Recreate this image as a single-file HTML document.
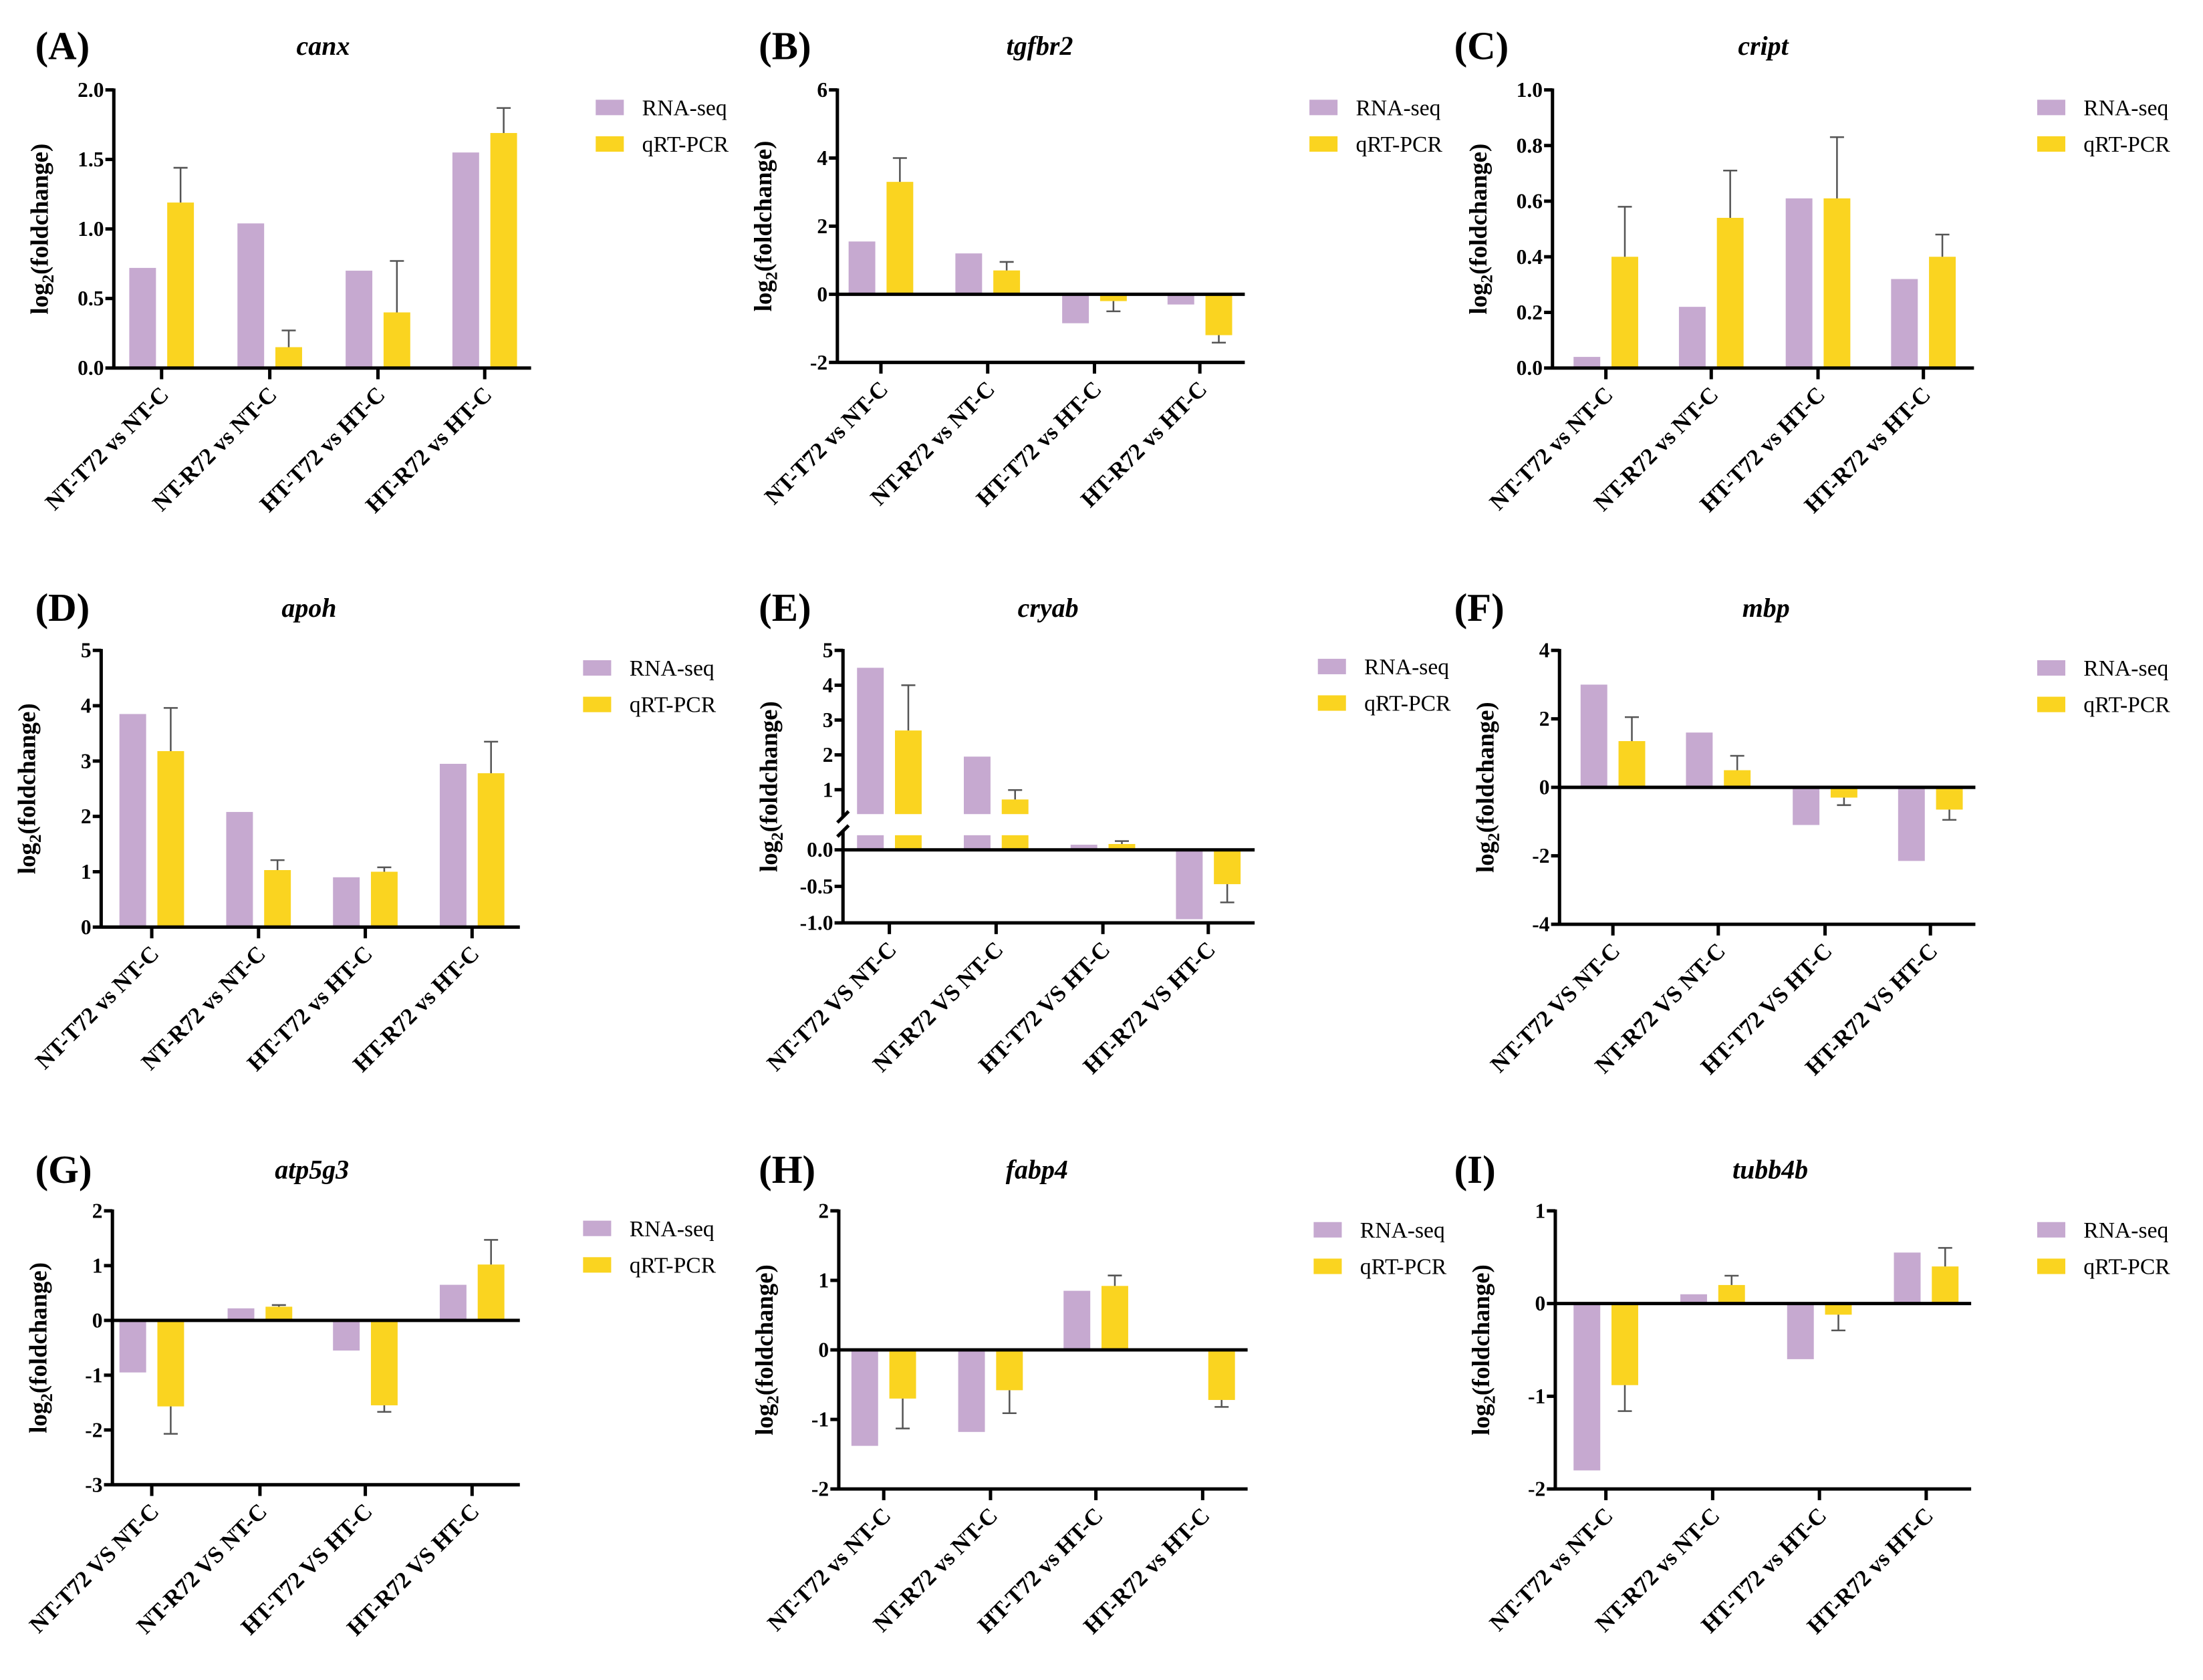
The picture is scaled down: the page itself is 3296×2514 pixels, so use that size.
<!DOCTYPE html>
<html><head><meta charset="utf-8">
<style>
html,body{margin:0;padding:0;background:#fff;}
svg{display:block;font-family:"Liberation Serif",serif;}
</style></head>
<body>
<svg id="fig" width="3296" height="2514" viewBox="0 0 1568 1196" xmlns="http://www.w3.org/2000/svg"></svg>
<script>
const catsLower = ["NT-T72 vs NT-C","NT-R72 vs NT-C","HT-T72 vs HT-C","HT-R72 vs HT-C"];
const catsUpper = ["NT-T72 VS NT-C","NT-R72 VS NT-C","HT-T72 VS HT-C","HT-R72 VS HT-C"];

const rnaA=[0.72,1.04,0.70,1.55], qA=[1.19,0.15,0.40,1.69], eA=[0.25,0.12,0.37,0.18];
const rnaB=[1.55,1.2,-0.85,-0.3], qB=[3.3,0.7,-0.2,-1.2], eB=[0.7,0.25,0.3,0.22];
const rnaC=[0.04,0.22,0.61,0.32], qC=[0.40,0.54,0.61,0.40], eC=[0.18,0.17,0.22,0.08];
const rnaD=[3.85,2.08,0.9,2.95], qD=[3.18,1.03,1.0,2.78], eD=[0.78,0.18,0.08,0.57];
const rnaE=[4.5,1.95,0.07,-0.95], qE=[2.7,0.72,0.08,-0.47], eE=[1.3,0.27,0.04,0.25];
const rnaF=[3.0,1.6,-1.1,-2.15], qF=[1.35,0.5,-0.3,-0.65], eF=[0.7,0.42,0.22,0.3];
const rnaG=[-0.95,0.22,-0.55,0.65], qG=[-1.57,0.25,-1.55,1.02], eG=[0.5,0.03,0.12,0.45];
const rnaH=[-1.38,-1.18,0.85,0], qH=[-0.7,-0.58,0.92,-0.72], eH=[0.43,0.33,0.15,0.1];
const rnaI=[-1.8,0.1,-0.6,0.55], qI=[-0.88,0.2,-0.12,0.4], eI=[0.28,0.1,0.17,0.2];

const ticksA=["0.0","0.5","1.0","1.5","2.0"];
const ticksB=["-2","0","2","4","6"];
const ticksC=["0.0","0.2","0.4","0.6","0.8","1.0"];
const ticksD=["0","1","2","3","4","5"];
const ticksEUp=["1","2","3","4","5"];
const ticksELow=["-1.0","-0.5","0.0"];
const ticksF=["-4","-2","0","2","4"];
const ticksG=["-3","-2","-1","0","1","2"];
const ticksH=["-2","-1","0","1","2"];
const ticksI=["-2","-1","0","1"];

const NS="http://www.w3.org/2000/svg";
const svg=document.getElementById('fig');
const PURPLE="#c6a9d0", YELLOW="#fad420";
function mk(tag,attrs,parent){const e=document.createElementNS(NS,tag);for(const k in attrs)e.setAttribute(k,attrs[k]);(parent||svg).appendChild(e);return e;}
function txt(s,attrs,parent){const e=mk('text',attrs,parent);e.textContent=s;return e;}

function panel(p){
  const g=mk('g',{});
  
  
  const L=txt('('+p.id+')',{x:p.lx,y:p.ty+9,'font-size':28,'font-weight':'bold'},g);
  
  
  const T=txt(p.title,{x:p.tx,y:p.ty+6,'font-size':19,'font-weight':'bold','font-style':'italic','text-anchor':'middle'},g);
  
  
  let y;
  if(p.broken){
    y=v=> v>=0.25 ? p.top+(5-v)*24.8 : p.zeroY - v*52;
  } else {
    y=v=> p.bot-(v-p.min)/(p.max-p.min)*(p.bot-p.top);
  }
  const ax=p.ax;
  for(let i=0;i<4;i++){
    const cx=p.cats[i];
    const series=[[p.rna[i],cx-23,PURPLE,'rna-seq-bar'],[p.q[i],cx+4,YELLOW,'qrt-pcr-bar']];
    series.forEach(([v,x0,col,nm],si)=>{
      if(v===0) return;
      if(p.broken && v>0.2){
        const r1=mk('rect',{x:x0,y:y(0.2),width:19,height:y(0)-y(0.2),fill:col},g);
        
        
        const r2=mk('rect',{x:x0,y:y(v),width:19,height:y(0.3)-y(v),fill:col},g);
        
        
      } else {
        const y0=y(0), y1=y(v);
        const r=mk('rect',{x:x0,y:Math.min(y0,y1),width:19,height:Math.abs(y1-y0),fill:col},g);
        
        
      }
      if(si===1){
        const e=p.err[i]; const vEnd=v>=0? v+e : v-e;
        const ex=x0+9.5;
        const eg=mk('g',{stroke:'#555','stroke-width':1.2},g);
        
        
        mk('line',{x1:ex,x2:ex,y1:y(v),y2:y(vEnd)},eg);
        mk('line',{x1:ex-5,x2:ex+5,y1:y(vEnd),y2:y(vEnd)},eg);
      }
    });
  }
  const axg=mk('g',{stroke:'#000','stroke-width':2.4,fill:'none'},g);
  
  
  const bottomY = p.broken ? y(-1) : p.bot;
  if(p.broken){
    mk('line',{x1:ax,x2:ax,y1:p.top-1,y2:y(0.3)+2},axg);
    mk('line',{x1:ax,x2:ax,y1:y(0.2)-3,y2:bottomY+1},axg);
    mk('line',{x1:ax-4,x2:ax+4,y1:y(0.3)+6,y2:y(0.3)-2},axg);
    mk('line',{x1:ax-4,x2:ax+4,y1:y(0.2)+1,y2:y(0.2)-7},axg);
  } else {
    mk('line',{x1:ax,x2:ax,y1:p.top-1,y2:bottomY+1},axg);
  }
  const allTicks=p.ticks.concat(p.ticks2||[]);
  allTicks.forEach(t=>{
    const v=parseFloat(t), ty=y(v);
    mk('line',{x1:ax-6,x2:ax,y1:ty,y2:ty},axg);
    const tl=txt(t,{x:ax-7,y:ty+5,'font-size':15,'font-weight':'bold','text-anchor':'end',stroke:'none',fill:'#000'},g);
    
    
  });
  const xg=mk('g',{stroke:'#000','stroke-width':2.4},g);
  
  
  mk('line',{x1:ax,x2:p.xr,y1:bottomY,y2:bottomY},xg);
  const zy=y(0);
  if(Math.abs(zy-bottomY)>1) mk('line',{x1:ax,x2:p.xr,y1:zy,y2:zy},xg);
  p.cats.forEach((cx,i)=>{
    mk('line',{x1:cx,x2:cx,y1:bottomY,y2:bottomY+8},xg);
    const lx=cx+6, ly=bottomY+20;
    const tl=txt(p.labels[i],{x:lx,y:ly,'font-size':16.5,'font-weight':'bold','text-anchor':'end',transform:`rotate(-45 ${lx} ${ly})`},g);
    
    
  });
  const midY=(p.top+bottomY)/2, yx=ax-47;
  const yt=txt('',{x:yx,y:midY,'font-size':17.5,'font-weight':'bold','text-anchor':'middle',transform:`rotate(-90 ${yx} ${midY})`},g);
  
  
  const s1=document.createElementNS(NS,'tspan');s1.textContent='log';yt.appendChild(s1);
  const s2=document.createElementNS(NS,'tspan');s2.textContent='2';s2.setAttribute('font-size',12);s2.setAttribute('dy',4);yt.appendChild(s2);
  const s3=document.createElementNS(NS,'tspan');s3.textContent='(foldchange)';s3.setAttribute('dy',-4);yt.appendChild(s3);
  [['RNA-seq',PURPLE,'legend-rna-seq'],['qRT-PCR',YELLOW,'legend-qrt-pcr']].forEach(([s,c,nm],k)=>{
    const lg=mk('g',{},g);
    
    
    const cy=p.legY+k*26;
    mk('rect',{x:p.legX,y:cy-6,width:20,height:11,fill:c},lg);
    txt(s,{x:p.legX+33,y:cy+5,'font-size':16},lg);
  });
}

panel({id:'A',title:'canx',lx:25,tx:230,ty:33,ax:81,top:64,bot:262,min:0,max:2,xr:378,cats:[115,192,269,345],rna:rnaA,q:qA,err:eA,ticks:ticksA,labels:catsLower,legX:424,legY:77});
panel({id:'B',title:'tgfbr2',lx:540,tx:740,ty:33,ax:596,top:64,bot:258,min:-2,max:6,xr:886,cats:[627,703,779,854],rna:rnaB,q:qB,err:eB,ticks:ticksB,labels:catsLower,legX:932,legY:77});
panel({id:'C',title:'cript',lx:1035,tx:1255,ty:33,ax:1105,top:64,bot:262,min:0,max:1,xr:1405,cats:[1143,1218,1294,1369],rna:rnaC,q:qC,err:eC,ticks:ticksC,labels:catsLower,legX:1450,legY:77});
panel({id:'D',title:'apoh',lx:25,tx:220,ty:433,ax:72,top:463,bot:660,min:0,max:5,xr:370,cats:[108,184,260,336],rna:rnaD,q:qD,err:eD,ticks:ticksD,labels:catsLower,legX:415,legY:476});
panel({id:'E',title:'cryab',lx:540,tx:746,ty:433,ax:600,top:463,zeroY:605,broken:true,xr:893,cats:[633,709,785,860],rna:rnaE,q:qE,err:eE,ticks:ticksEUp,ticks2:ticksELow,labels:catsUpper,legX:938,legY:475});
panel({id:'F',title:'mbp',lx:1035,tx:1257,ty:433,ax:1110,top:463,bot:658,min:-4,max:4,xr:1406,cats:[1148,1223,1299,1374],rna:rnaF,q:qF,err:eF,ticks:ticksF,labels:catsUpper,legX:1450,legY:476});
panel({id:'G',title:'atp5g3',lx:25,tx:222,ty:833,ax:80,top:862,bot:1057,min:-3,max:2,xr:370,cats:[108,185,260,336],rna:rnaG,q:qG,err:eG,ticks:ticksG,labels:catsUpper,legX:415,legY:875});
panel({id:'H',title:'fabp4',lx:540,tx:738,ty:833,ax:597,top:862,bot:1060,min:-2,max:2,xr:888,cats:[629,705,780,856],rna:rnaH,q:qH,err:eH,ticks:ticksH,labels:catsLower,legX:935,legY:876});
panel({id:'I',title:'tubb4b',lx:1035,tx:1260,ty:833,ax:1107,top:862,bot:1060,min:-2,max:1,xr:1403,cats:[1143,1219,1295,1371],rna:rnaI,q:qI,err:eI,ticks:ticksI,labels:catsLower,legX:1450,legY:876});
</script>
</body></html>
